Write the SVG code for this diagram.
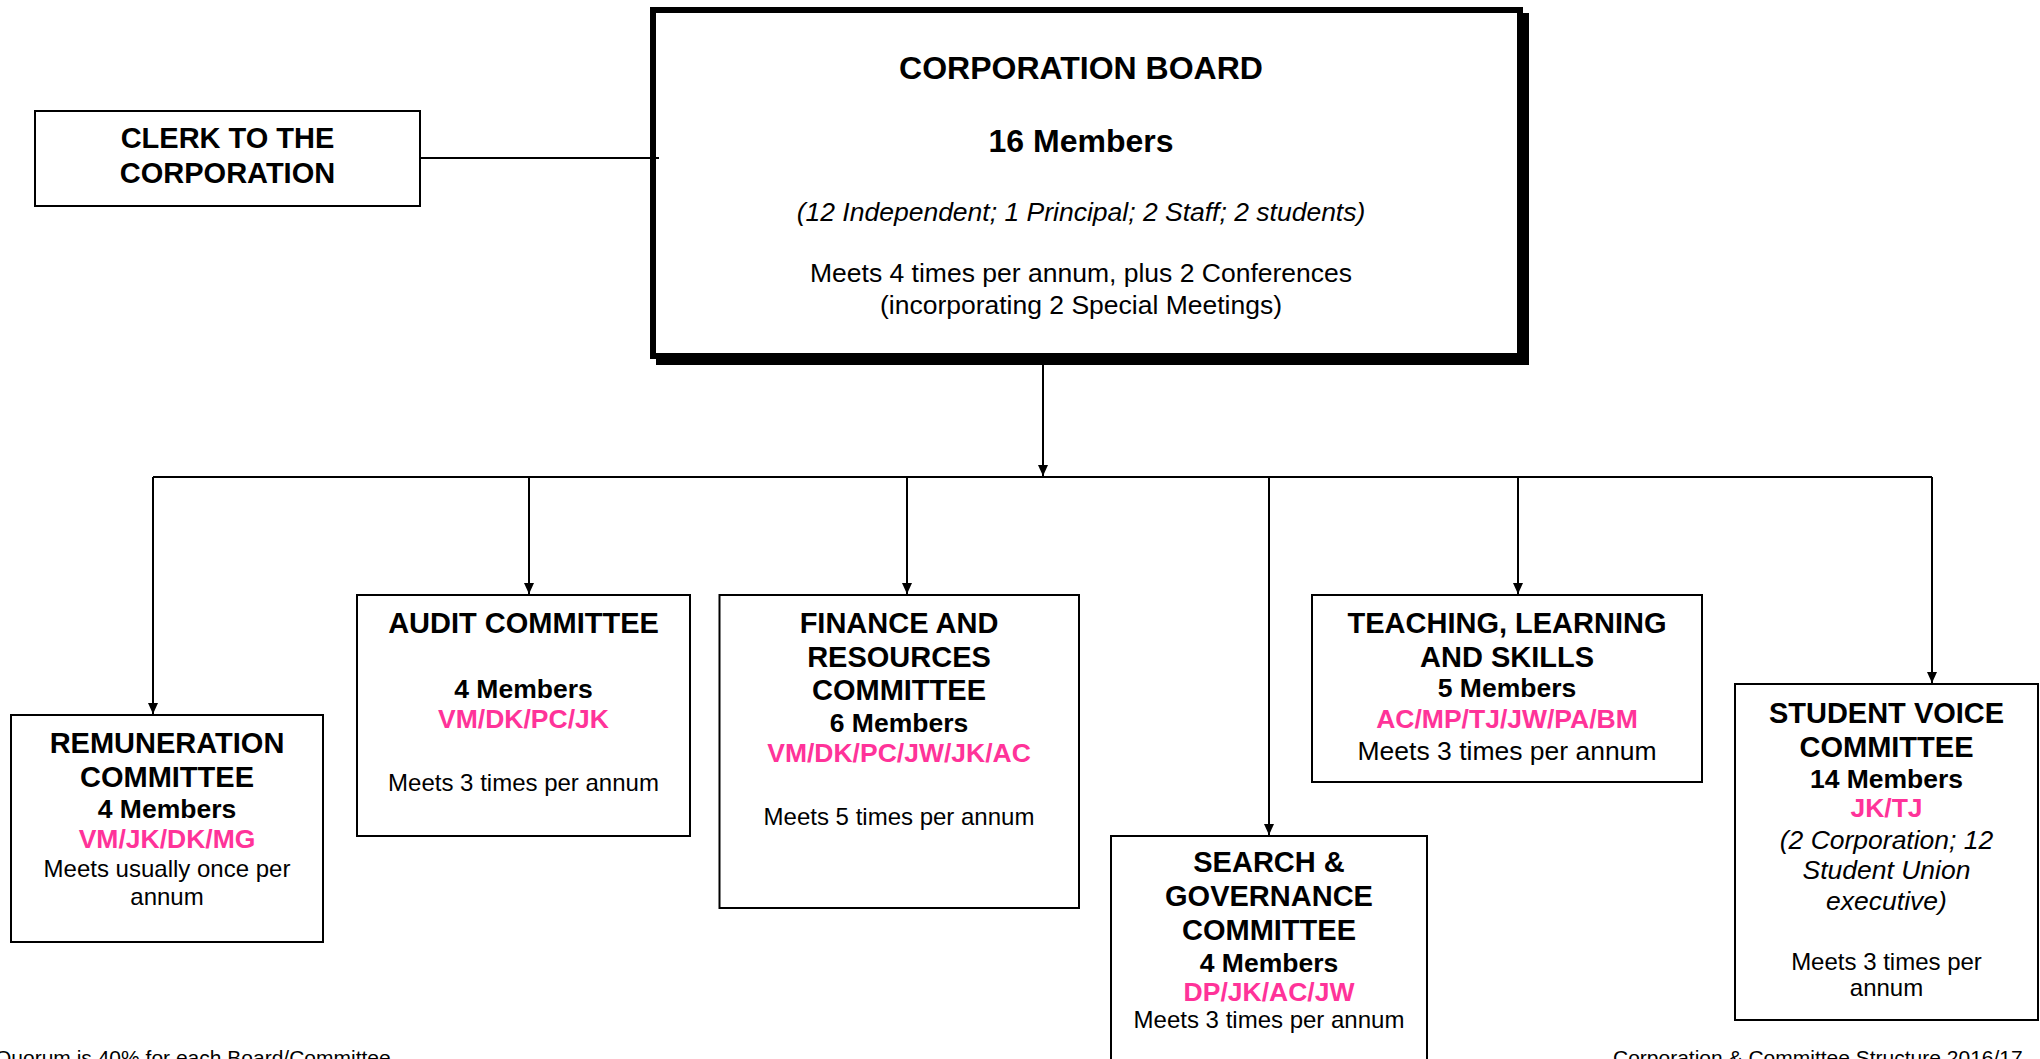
<svg xmlns="http://www.w3.org/2000/svg" width="2040" height="1059" viewBox="0 0 2040 1059">
<defs>
<marker id="arr" markerUnits="userSpaceOnUse" markerWidth="12" markerHeight="10" refX="11" refY="5" orient="auto">
<path d="M0,0 L11,5 L0,10 Z" fill="#000"/>
</marker>
<style>
text{font-family:"Liberation Sans",Arial,sans-serif;text-anchor:middle;fill:#000}
.t{font-size:29px;font-weight:bold}
.b32{font-size:32px;font-weight:bold}
.m{font-size:26.5px;font-weight:bold}
.p{font-size:26.5px;font-weight:bold;fill:#ff3399}
.r{font-size:24px}
.r26{font-size:26.5px}
.i{font-size:26.5px;font-style:italic}
.f{font-size:21px;text-anchor:start}
.box{fill:#fff;stroke:#000;stroke-width:2}
.c{fill:none;stroke:#000;stroke-width:2}
</style>
</defs>
<rect width="2040" height="1059" fill="#fff"/>

<g id="clerk">
<rect class="box" x="35" y="111" width="385" height="95"/>
<text class="t" x="227.5" y="147.5">CLERK TO THE</text>
<text class="t" x="227.5" y="182.5">CORPORATION</text>
</g>

<g id="board">
<rect x="656" y="13" width="873" height="352" fill="#000"/>
<rect x="653" y="10" width="867" height="346" fill="#fff" stroke="#000" stroke-width="6"/>
<text class="b32" x="1081" y="79">CORPORATION BOARD</text>
<text class="b32" x="1081" y="152">16 Members</text>
<text class="i" x="1081" y="221">(12 Independent; 1 Principal; 2 Staff; 2 students)</text>
<text class="r26" x="1081" y="282">Meets 4 times per annum, plus 2 Conferences</text>
<text class="r26" x="1081" y="314">(incorporating 2 Special Meetings)</text>
</g>

<g id="remuneration">
<rect class="box" x="11" y="715" width="312" height="227"/>
<text class="t" x="167" y="753">REMUNERATION</text>
<text class="t" x="167" y="787">COMMITTEE</text>
<text class="m" x="167" y="818">4 Members</text>
<text class="p" x="167" y="848">VM/JK/DK/MG</text>
<text class="r" x="167" y="877">Meets usually once per</text>
<text class="r" x="167" y="905">annum</text>
</g>

<g id="audit">
<rect class="box" x="357" y="595" width="333" height="241"/>
<text class="t" x="523.5" y="633">AUDIT COMMITTEE</text>
<text class="m" x="523.5" y="698">4 Members</text>
<text class="p" x="523.5" y="728">VM/DK/PC/JK</text>
<text class="r" x="523.5" y="791">Meets 3 times per annum</text>
</g>

<g id="finance">
<rect class="box" x="719.5" y="595" width="359.5" height="313"/>
<text class="t" x="899" y="633">FINANCE AND</text>
<text class="t" x="899" y="667">RESOURCES</text>
<text class="t" x="899" y="700">COMMITTEE</text>
<text class="m" x="899" y="732">6 Members</text>
<text class="p" x="899" y="762">VM/DK/PC/JW/JK/AC</text>
<text class="r" x="899" y="825">Meets 5 times per annum</text>
</g>

<g id="search">
<rect class="box" x="1111" y="836" width="316" height="240"/>
<text class="t" x="1269" y="872">SEARCH &amp;</text>
<text class="t" x="1269" y="906">GOVERNANCE</text>
<text class="t" x="1269" y="940">COMMITTEE</text>
<text class="m" x="1269" y="972">4 Members</text>
<text class="p" x="1269" y="1001">DP/JK/AC/JW</text>
<text class="r" x="1269" y="1028">Meets 3 times per annum</text>
</g>

<g id="teaching">
<rect class="box" x="1312" y="595" width="390" height="187"/>
<text class="t" x="1507" y="633">TEACHING, LEARNING</text>
<text class="t" x="1507" y="667">AND SKILLS</text>
<text class="m" x="1507" y="697">5 Members</text>
<text class="p" x="1507" y="728">AC/MP/TJ/JW/PA/BM</text>
<text class="r26" x="1507" y="760">Meets 3 times per annum</text>
</g>

<g id="student-voice">
<rect class="box" x="1735" y="684" width="303" height="336"/>
<text class="t" x="1886.5" y="723">STUDENT VOICE</text>
<text class="t" x="1886.5" y="757">COMMITTEE</text>
<text class="m" x="1886.5" y="788">14 Members</text>
<text class="p" x="1886.5" y="817">JK/TJ</text>
<text class="i" x="1886.5" y="849">(2 Corporation; 12</text>
<text class="i" x="1886.5" y="879">Student Union</text>
<text class="i" x="1886.5" y="910">executive)</text>
<text class="r" x="1886.5" y="970">Meets 3 times per</text>
<text class="r" x="1886.5" y="996">annum</text>
</g>

<g id="connectors">
<path class="c" d="M420,158 H659"/>
<path class="c" d="M1043,365 V476" marker-end="url(#arr)"/>
<path class="c" d="M153,477 H1932"/>
<path class="c" d="M153,477 V714" marker-end="url(#arr)"/>
<path class="c" d="M529,477 V594" marker-end="url(#arr)"/>
<path class="c" d="M907,477 V594" marker-end="url(#arr)"/>
<path class="c" d="M1269,477 V835" marker-end="url(#arr)"/>
<path class="c" d="M1518,477 V594" marker-end="url(#arr)"/>
<path class="c" d="M1932,477 V683" marker-end="url(#arr)"/>
</g>

<g id="footer">
<text class="f" x="-5" y="1065">Quorum is 40% for each Board/Committee</text>
<text class="f" x="1613" y="1065">Corporation &amp; Committee Structure 2016/17</text>
</g>
</svg>
